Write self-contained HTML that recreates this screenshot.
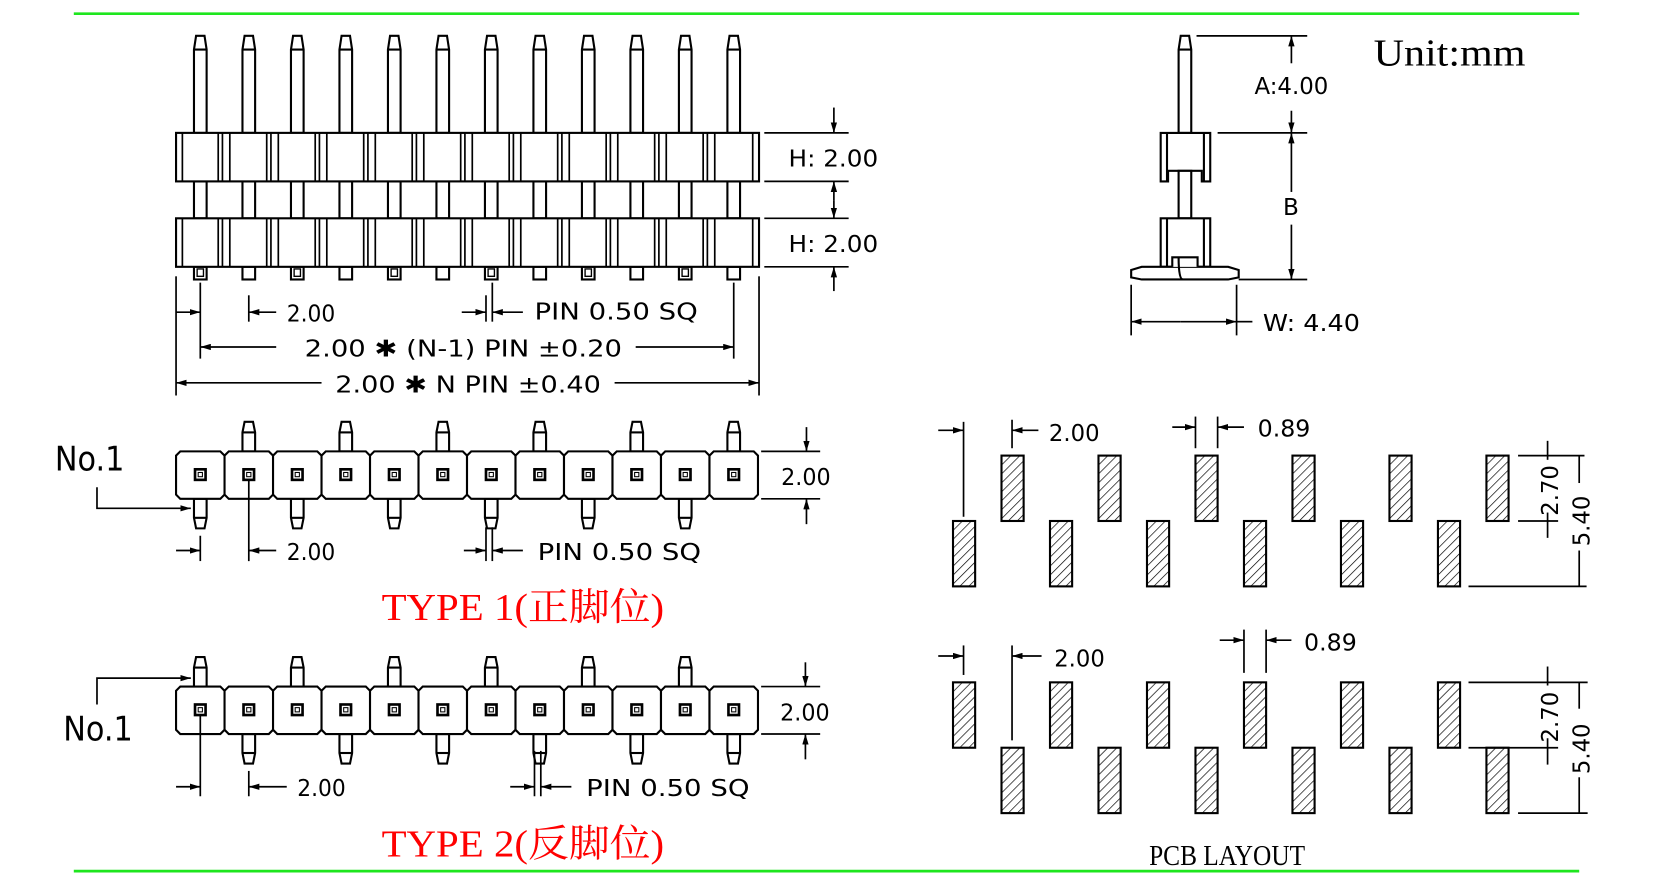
<!DOCTYPE html>
<html><head><meta charset="utf-8"><style>
html,body{margin:0;padding:0;background:#fff}
svg{display:block}
text{font-family:"DejaVu Sans","Liberation Sans",sans-serif;fill:#000}
.s{font-family:"Liberation Serif","Noto Serif CJK SC",serif}
</style></head><body>
<svg width="1653" height="888" viewBox="0 0 1568 842" preserveAspectRatio="none" xmlns="http://www.w3.org/2000/svg">
<defs>
<pattern id="h" width="6" height="6" patternUnits="userSpaceOnUse" patternTransform="rotate(45)"><line x1="0" y1="0" x2="0" y2="6" stroke="#000" stroke-width="1.3"/></pattern>
<g id="pad"><rect x="0" y="0" width="21" height="62" fill="url(#h)" stroke="#000" stroke-width="2"/></g>
<g id="cell" fill="none" stroke="#000" stroke-width="2"><polygon points="4,0 42,0 46,4 46,41 42,45 4,45 0,41 0,4" fill="#fff"/><rect x="18" y="17" width="10" height="10" stroke-width="2.5"/><rect x="21" y="20" width="4" height="4" stroke-width="1"/></g>
<g id="pu" fill="#fff" stroke="#000" stroke-width="2"><polygon points="-4,0 4,0 6,10 6,28 -6,28 -6,10"/><line x1="-6" y1="10" x2="6" y2="10"/></g>
<g id="pd" fill="#fff" stroke="#000" stroke-width="2"><polygon points="-6,0 6,0 6,18 4,28 -4,28 -6,18"/><line x1="-6" y1="18" x2="6" y2="18"/></g>
<g id="lp" fill="#fff" stroke="#000" stroke-width="2"><polygon points="-4,34 4,34 6,47 6,126 -6,126 -6,47 -4,34"/><line x1="-6" y1="47" x2="6" y2="47"/><rect x="-6" y="172" width="12" height="35"/><rect x="-6" y="253" width="12" height="12"/></g>
<g id="div" stroke="#000" stroke-width="1.6"><line x1="-6" y1="0" x2="-6" y2="46"/><line x1="-2" y1="0" x2="-2" y2="46"/><line x1="5" y1="0" x2="5" y2="46"/></g>
<marker id="a" viewBox="0 0 10 6" refX="10" refY="3" markerWidth="10" markerHeight="6" markerUnits="userSpaceOnUse" orient="auto"><path d="M0,0 L10,3 L0,6 Z" fill="#000"/></marker>
</defs>
<line x1="70" y1="13" x2="1498" y2="13" stroke="#1ee61e" stroke-width="2.5"/>
<line x1="70" y1="826" x2="1498" y2="826" stroke="#1ee61e" stroke-width="2.5"/>

<g>
<use href="#lp" x="190"/><use href="#lp" x="236"/><use href="#lp" x="282"/><use href="#lp" x="328"/><use href="#lp" x="374"/><use href="#lp" x="420"/><use href="#lp" x="466"/><use href="#lp" x="512"/><use href="#lp" x="558"/><use href="#lp" x="604"/><use href="#lp" x="650"/><use href="#lp" x="696"/>
<g fill="none" stroke="#000" stroke-width="2"><rect x="167" y="126" width="553" height="46" fill="#fff"/><rect x="167" y="207" width="553" height="46" fill="#fff"/></g>
<g stroke="#000" stroke-width="1.6"><line x1="173" y1="126" x2="173" y2="172"/><line x1="173" y1="207" x2="173" y2="253"/><line x1="714" y1="126" x2="714" y2="172"/><line x1="714" y1="207" x2="714" y2="253"/></g>
<g transform="translate(0,126)"><use href="#div" x="213"/><use href="#div" x="259"/><use href="#div" x="305"/><use href="#div" x="351"/><use href="#div" x="397"/><use href="#div" x="443"/><use href="#div" x="489"/><use href="#div" x="535"/><use href="#div" x="581"/><use href="#div" x="627"/><use href="#div" x="673"/></g>
<g transform="translate(0,207)"><use href="#div" x="213"/><use href="#div" x="259"/><use href="#div" x="305"/><use href="#div" x="351"/><use href="#div" x="397"/><use href="#div" x="443"/><use href="#div" x="489"/><use href="#div" x="535"/><use href="#div" x="581"/><use href="#div" x="627"/><use href="#div" x="673"/></g>
<g fill="none" stroke="#000" stroke-width="1.3"><rect x="187" y="255" width="6" height="7"/><rect x="279" y="255" width="6" height="7"/><rect x="371" y="255" width="6" height="7"/><rect x="463" y="255" width="6" height="7"/><rect x="555" y="255" width="6" height="7"/><rect x="647" y="255" width="6" height="7"/></g>
<g stroke="#000" stroke-width="1.6" fill="none">
<line x1="725" y1="126" x2="805" y2="126"/><line x1="725" y1="172" x2="805" y2="172"/><line x1="725" y1="207" x2="805" y2="207"/><line x1="725" y1="253" x2="805" y2="253"/>
<line x1="791" y1="102" x2="791" y2="126" marker-end="url(#a)"/><line x1="791" y1="190" x2="791" y2="172" marker-end="url(#a)"/><line x1="791" y1="190" x2="791" y2="207" marker-end="url(#a)"/><line x1="791" y1="276" x2="791" y2="253" marker-end="url(#a)"/>
<line x1="167" y1="262" x2="167" y2="375"/><line x1="190" y1="268" x2="190" y2="340"/><line x1="236" y1="280" x2="236" y2="305"/><line x1="461" y1="280" x2="461" y2="305"/><line x1="467" y1="268" x2="467" y2="305"/><line x1="696" y1="268" x2="696" y2="340"/><line x1="720" y1="262" x2="720" y2="375"/>
<line x1="167" y1="296" x2="190" y2="296" marker-end="url(#a)"/><line x1="262" y1="296" x2="236" y2="296" marker-end="url(#a)"/>
<line x1="438" y1="296" x2="461" y2="296" marker-end="url(#a)"/><line x1="496" y1="296" x2="467" y2="296" marker-end="url(#a)"/>
<line x1="262" y1="329" x2="190" y2="329" marker-end="url(#a)"/><line x1="603" y1="329" x2="696" y2="329" marker-end="url(#a)"/>
<line x1="305" y1="363" x2="167" y2="363" marker-end="url(#a)"/><line x1="583" y1="363" x2="720" y2="363" marker-end="url(#a)"/>
</g>
<g font-size="22" lengthAdjust="spacingAndGlyphs">
<text x="748" y="158" textLength="85" lengthAdjust="spacingAndGlyphs">H:  2.00</text><text x="748" y="239" textLength="85" lengthAdjust="spacingAndGlyphs">H:  2.00</text>
<text x="272" y="305" textLength="46" lengthAdjust="spacingAndGlyphs">2.00</text><text x="507" y="303" textLength="155" lengthAdjust="spacingAndGlyphs">PIN  0.50  SQ</text>
<text x="289" y="338" textLength="301" lengthAdjust="spacingAndGlyphs">2.00 ✱ (N-1) PIN ±0.20</text><text x="318" y="372" textLength="252" lengthAdjust="spacingAndGlyphs">2.00 ✱ N PIN ±0.40</text></g>
</g>

<g stroke="#000" stroke-width="2" fill="#fff">
<polygon points="1120,34 1128,34 1130,47 1130,126 1118,126 1118,47"/><line x1="1118" y1="47" x2="1130" y2="47"/>
<path d="M1101,126 H1148 V172 H1140 V162 H1108 V172 H1101 Z"/><line x1="1107" y1="126" x2="1107" y2="172"/><line x1="1142" y1="126" x2="1142" y2="172"/>
<rect x="1118" y="162" width="12" height="45"/>
<path d="M1101,207 H1148 V253 H1101 Z"/><line x1="1107" y1="207" x2="1107" y2="253"/><line x1="1142" y1="207" x2="1142" y2="253"/>
<path d="M1083,253 H1165 L1175,256 V263 L1165,265 H1083 L1073,263 V256 Z"/>
<path d="M1112,253 V244 H1136 V253" fill="#fff"/><path d="M1118,244 Q1118,265 1122,265" fill="none"/>
</g>
<g stroke="#000" stroke-width="1.6" fill="none">
<line x1="1135" y1="34" x2="1240" y2="34"/><line x1="1155" y1="126" x2="1240" y2="126"/><line x1="1175" y1="265" x2="1240" y2="265"/>
<line x1="1225" y1="60" x2="1225" y2="34" marker-end="url(#a)"/><line x1="1225" y1="105" x2="1225" y2="126" marker-end="url(#a)"/>
<line x1="1225" y1="182" x2="1225" y2="126" marker-end="url(#a)"/><line x1="1225" y1="213" x2="1225" y2="265" marker-end="url(#a)"/>
<line x1="1073" y1="270" x2="1073" y2="318"/><line x1="1173" y1="270" x2="1173" y2="318"/>
<line x1="1120" y1="305" x2="1073" y2="305" marker-end="url(#a)"/><line x1="1120" y1="305" x2="1173" y2="305" marker-end="url(#a)"/><line x1="1173" y1="305" x2="1188" y2="305"/>
</g>
<g font-size="22"><text x="1190" y="89" textLength="70" lengthAdjust="spacingAndGlyphs">A:4.00</text><text x="1217" y="204">B</text><text x="1198" y="314" textLength="92" lengthAdjust="spacingAndGlyphs">W:  4.40</text></g>
<text class="s" x="1303" y="62" font-size="36" textLength="144" lengthAdjust="spacingAndGlyphs">Unit:mm</text>

<g>
<use href="#pu" x="236" y="400"/><use href="#pu" x="328" y="400"/><use href="#pu" x="420" y="400"/><use href="#pu" x="512" y="400"/><use href="#pu" x="604" y="400"/><use href="#pu" x="696" y="400"/>
<use href="#pd" x="190" y="473"/><use href="#pd" x="282" y="473"/><use href="#pd" x="374" y="473"/><use href="#pd" x="466" y="473"/><use href="#pd" x="558" y="473"/><use href="#pd" x="650" y="473"/>
<g transform="translate(0,428)"><use href="#cell" x="167"/><use href="#cell" x="213"/><use href="#cell" x="259"/><use href="#cell" x="305"/><use href="#cell" x="351"/><use href="#cell" x="397"/><use href="#cell" x="443"/><use href="#cell" x="489"/><use href="#cell" x="535"/><use href="#cell" x="581"/><use href="#cell" x="627"/><use href="#cell" x="673"/></g>
<g stroke="#000" stroke-width="1.6" fill="none">
<polyline points="92,462 92,482 181,482" marker-end="url(#a)"/>
<line x1="190" y1="508" x2="190" y2="532"/><line x1="236" y1="455" x2="236" y2="532"/><line x1="461" y1="500" x2="461" y2="532"/><line x1="467" y1="500" x2="467" y2="532"/>
<line x1="167" y1="522" x2="190" y2="522" marker-end="url(#a)"/><line x1="262" y1="522" x2="236" y2="522" marker-end="url(#a)"/>
<line x1="440" y1="522" x2="461" y2="522" marker-end="url(#a)"/><line x1="496" y1="522" x2="467" y2="522" marker-end="url(#a)"/>
<line x1="722" y1="428" x2="778" y2="428"/><line x1="722" y1="473" x2="778" y2="473"/>
<line x1="765" y1="405" x2="765" y2="428" marker-end="url(#a)"/><line x1="765" y1="497" x2="765" y2="473" marker-end="url(#a)"/>
</g>
<text x="52" y="446" font-size="32" textLength="66" lengthAdjust="spacingAndGlyphs">No.1</text>
<g font-size="22"><text x="272" y="531" textLength="46" lengthAdjust="spacingAndGlyphs">2.00</text><text x="510" y="531" textLength="155" lengthAdjust="spacingAndGlyphs">PIN  0.50  SQ</text><text x="741" y="460" textLength="47" lengthAdjust="spacingAndGlyphs">2.00</text></g>
<text class="s" x="362" y="588" font-size="36" textLength="268" lengthAdjust="spacingAndGlyphs" style="fill:#f00">TYPE  1(正脚位)</text>
</g>

<g>
<use href="#pu" x="190" y="623"/><use href="#pu" x="282" y="623"/><use href="#pu" x="374" y="623"/><use href="#pu" x="466" y="623"/><use href="#pu" x="558" y="623"/><use href="#pu" x="650" y="623"/>
<use href="#pd" x="236" y="696"/><use href="#pd" x="328" y="696"/><use href="#pd" x="420" y="696"/><use href="#pd" x="512" y="696"/><use href="#pd" x="604" y="696"/><use href="#pd" x="696" y="696"/>
<g transform="translate(0,651)"><use href="#cell" x="167"/><use href="#cell" x="213"/><use href="#cell" x="259"/><use href="#cell" x="305"/><use href="#cell" x="351"/><use href="#cell" x="397"/><use href="#cell" x="443"/><use href="#cell" x="489"/><use href="#cell" x="535"/><use href="#cell" x="581"/><use href="#cell" x="627"/><use href="#cell" x="673"/></g>
<g stroke="#000" stroke-width="1.6" fill="none">
<polyline points="92,668 92,643 181,643" marker-end="url(#a)"/>
<line x1="190" y1="678" x2="190" y2="755"/><line x1="236" y1="731" x2="236" y2="755"/><line x1="507" y1="712" x2="507" y2="755"/><line x1="513" y1="712" x2="513" y2="755"/>
<line x1="167" y1="746" x2="190" y2="746" marker-end="url(#a)"/><line x1="272" y1="746" x2="236" y2="746" marker-end="url(#a)"/>
<line x1="484" y1="746" x2="507" y2="746" marker-end="url(#a)"/><line x1="542" y1="746" x2="513" y2="746" marker-end="url(#a)"/>
<line x1="722" y1="651" x2="778" y2="651"/><line x1="722" y1="696" x2="778" y2="696"/>
<line x1="764" y1="628" x2="764" y2="651" marker-end="url(#a)"/><line x1="764" y1="720" x2="764" y2="696" marker-end="url(#a)"/>
</g>
<text x="60" y="702" font-size="32" textLength="66" lengthAdjust="spacingAndGlyphs">No.1</text>
<g font-size="22"><text x="282" y="755" textLength="46" lengthAdjust="spacingAndGlyphs">2.00</text><text x="556" y="755" textLength="155" lengthAdjust="spacingAndGlyphs">PIN  0.50  SQ</text><text x="740" y="683" textLength="47" lengthAdjust="spacingAndGlyphs">2.00</text></g>
<text class="s" x="362" y="812" font-size="36" textLength="268" lengthAdjust="spacingAndGlyphs" style="fill:#f00">TYPE  2(反脚位)</text>
</g>

<g>
<use href="#pad" x="950" y="432"/><use href="#pad" x="1042" y="432"/><use href="#pad" x="1134" y="432"/><use href="#pad" x="1226" y="432"/><use href="#pad" x="1318" y="432"/><use href="#pad" x="1410" y="432"/>
<use href="#pad" x="904" y="494"/><use href="#pad" x="996" y="494"/><use href="#pad" x="1088" y="494"/><use href="#pad" x="1180" y="494"/><use href="#pad" x="1272" y="494"/><use href="#pad" x="1364" y="494"/>
<g stroke="#000" stroke-width="1.6" fill="none">
<line x1="914" y1="400" x2="914" y2="490"/><line x1="960" y1="398" x2="960" y2="425"/>
<line x1="890" y1="408" x2="914" y2="408" marker-end="url(#a)"/><line x1="985" y1="408" x2="960" y2="408" marker-end="url(#a)"/>
<line x1="1134" y1="395" x2="1134" y2="425"/><line x1="1155" y1="395" x2="1155" y2="425"/>
<line x1="1112" y1="405" x2="1134" y2="405" marker-end="url(#a)"/><line x1="1180" y1="405" x2="1155" y2="405" marker-end="url(#a)"/>
<line x1="1440" y1="432" x2="1503" y2="432"/><line x1="1440" y1="494" x2="1478" y2="494"/><line x1="1393" y1="556" x2="1505" y2="556"/>
<line x1="1468" y1="418" x2="1468" y2="436"/><line x1="1468" y1="486" x2="1468" y2="510"/>
<line x1="1498" y1="432" x2="1498" y2="458"/><line x1="1498" y1="522" x2="1498" y2="556"/>
</g>
<g font-size="22"><text x="995" y="418" textLength="48" lengthAdjust="spacingAndGlyphs">2.00</text><text x="1193" y="414" textLength="50" lengthAdjust="spacingAndGlyphs">0.89</text>
<text transform="translate(1478,489) rotate(-90)" textLength="48" lengthAdjust="spacingAndGlyphs">2.70</text><text transform="translate(1508,518) rotate(-90)" textLength="48" lengthAdjust="spacingAndGlyphs">5.40</text></g>
</g>

<g>
<use href="#pad" x="904" y="647"/><use href="#pad" x="996" y="647"/><use href="#pad" x="1088" y="647"/><use href="#pad" x="1180" y="647"/><use href="#pad" x="1272" y="647"/><use href="#pad" x="1364" y="647"/>
<use href="#pad" x="950" y="709"/><use href="#pad" x="1042" y="709"/><use href="#pad" x="1134" y="709"/><use href="#pad" x="1226" y="709"/><use href="#pad" x="1318" y="709"/><use href="#pad" x="1410" y="709"/>
<g stroke="#000" stroke-width="1.6" fill="none">
<line x1="914" y1="612" x2="914" y2="640"/><line x1="960" y1="612" x2="960" y2="702"/>
<line x1="890" y1="622" x2="914" y2="622" marker-end="url(#a)"/><line x1="988" y1="622" x2="960" y2="622" marker-end="url(#a)"/>
<line x1="1180" y1="597" x2="1180" y2="638"/><line x1="1201" y1="597" x2="1201" y2="638"/>
<line x1="1157" y1="607" x2="1180" y2="607" marker-end="url(#a)"/><line x1="1225" y1="607" x2="1201" y2="607" marker-end="url(#a)"/>
<line x1="1393" y1="647" x2="1506" y2="647"/><line x1="1393" y1="709" x2="1478" y2="709"/><line x1="1440" y1="771" x2="1506" y2="771"/>
<line x1="1468" y1="632" x2="1468" y2="650"/><line x1="1468" y1="700" x2="1468" y2="725"/>
<line x1="1498" y1="647" x2="1498" y2="672"/><line x1="1498" y1="737" x2="1498" y2="771"/>
</g>
<g font-size="22"><text x="1000" y="632" textLength="48" lengthAdjust="spacingAndGlyphs">2.00</text><text x="1237" y="617" textLength="50" lengthAdjust="spacingAndGlyphs">0.89</text>
<text transform="translate(1478,704) rotate(-90)" textLength="48" lengthAdjust="spacingAndGlyphs">2.70</text><text transform="translate(1508,734) rotate(-90)" textLength="48" lengthAdjust="spacingAndGlyphs">5.40</text></g>
<text class="s" x="1090" y="820" font-size="27" textLength="148" lengthAdjust="spacingAndGlyphs">PCB  LAYOUT</text>
</g>
</svg>
</body></html>
